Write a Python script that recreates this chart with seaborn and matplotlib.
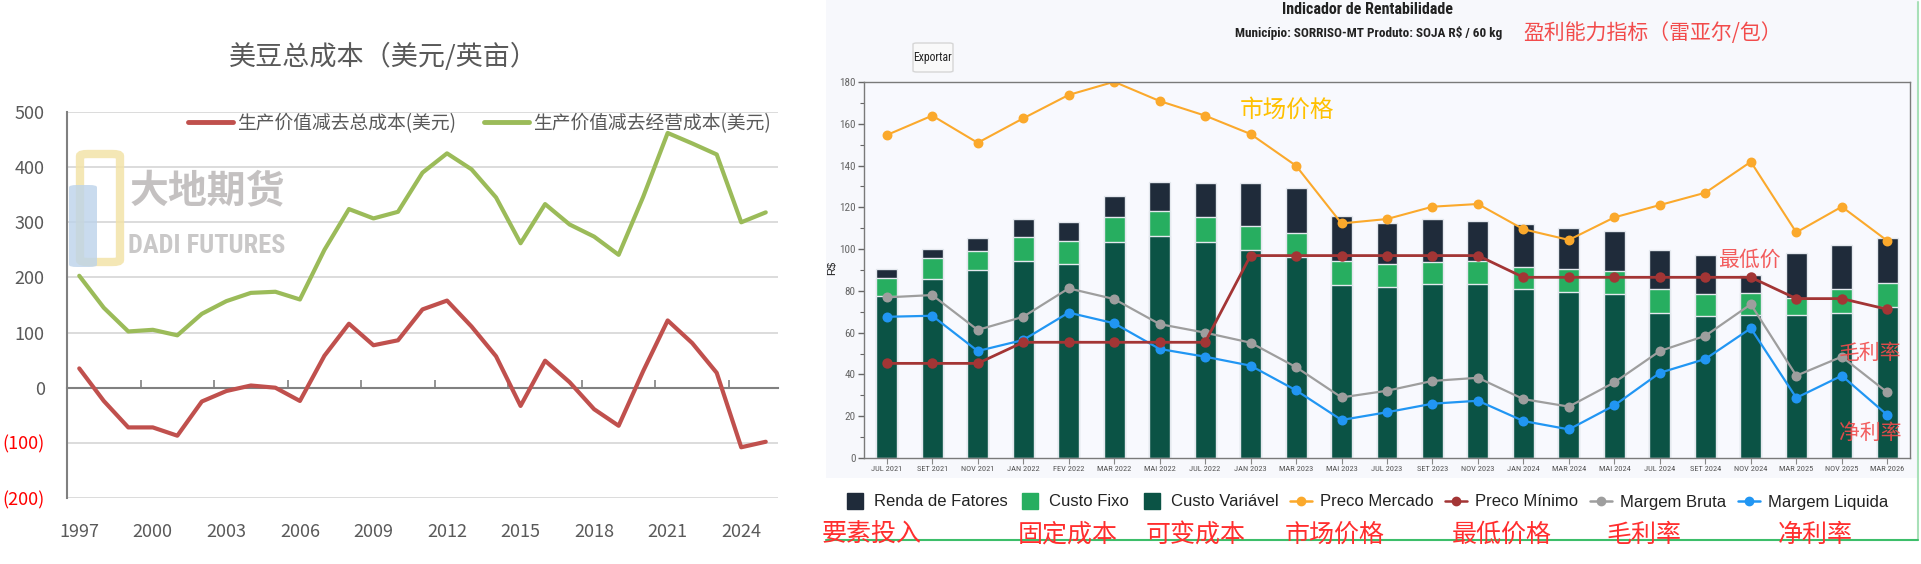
import numpy as np
import pandas as pd
import matplotlib
matplotlib.use("Agg")
import matplotlib.pyplot as plt
import seaborn as sns
from matplotlib import font_manager
from matplotlib.font_manager import FontProperties
from matplotlib.patches import Rectangle, FancyBboxPatch
from matplotlib.lines import Line2D
from matplotlib.ticker import MultipleLocator, FuncFormatter

# ---------------- data: left chart (USD / acre) ----------------
years = list(range(1997, 2026))
net_total_cost = [35, -24, -72, -72, -87, -25, -6, 4, 0, -24, 58, 116, 77, 86, 142,
                  158, 111, 57, -33, 49, 10, -39, -69, 30, 122, 81, 27, -108, -98]
net_oper_cost = [203, 145, 102, 105, 95, 134, 157, 172, 174, 160, 250, 324, 307, 319, 390,
                 425, 396, 345, 262, 333, 296, 274, 241, 346, 462, 443, 423, 300, 318]
label_total = "生产价值减去总成本(美元)"
label_oper = "生产价值减去经营成本(美元)"
year_labels = [str(y) for y in years[::3]]

# ---------------- data: right chart (R$ / 60 kg) ----------------
periods = ["JUL 2021", "SET 2021", "NOV 2021", "JAN 2022", "FEV 2022", "MAR 2022", "MAI 2022",
           "JUL 2022", "JAN 2023", "MAR 2023", "MAI 2023", "JUL 2023", "SET 2023", "NOV 2023",
           "JAN 2024", "MAR 2024", "MAI 2024", "JUL 2024", "SET 2024", "NOV 2024", "MAR 2025",
           "NOV 2025", "MAR 2026"]
custo_variavel = [77.7, 85.5, 89.8, 94.5, 92.7, 103.2, 106.3, 103.2, 99.6, 96.1, 83.0, 81.7,
                  83.4, 83.2, 80.8, 79.6, 78.5, 69.6, 68.0, 68.4, 68.5, 69.6, 72.1]
custo_fixo = [8.7, 10.1, 9.4, 11.4, 11.2, 12.3, 11.9, 12.0, 11.5, 11.4, 11.3, 11.0,
              10.6, 11.1, 10.8, 10.7, 11.2, 11.2, 10.7, 10.7, 7.9, 11.2, 11.5]
renda_fatores = [4.1, 4.4, 6.0, 8.4, 9.2, 10.1, 14.1, 16.6, 20.7, 21.6, 21.7, 19.9,
                 20.3, 19.3, 20.4, 19.7, 19.1, 18.6, 18.5, 8.5, 21.6, 21.0, 21.6]
preco_mercado = [154.6, 163.9, 150.9, 162.6, 173.8, 180.1, 170.9, 163.9, 155.1, 139.9, 112.3, 114.4,
                 120.3, 121.6, 109.5, 104.4, 115.2, 121.1, 127.0, 141.8, 108.0, 120.3, 104.0]
preco_minimo = [45.3, 45.3, 45.3, 55.4, 55.4, 55.4, 55.4, 55.4, 96.9, 96.9, 96.9, 96.9,
                96.9, 96.9, 86.5, 86.5, 86.5, 86.5, 86.5, 86.5, 76.3, 76.3, 71.2]
margem_bruta = [76.9, 78.0, 61.3, 67.6, 81.2, 76.1, 64.1, 60.0, 55.2, 43.5, 29.0, 32.2,
                36.9, 38.4, 28.2, 24.6, 36.2, 51.2, 58.5, 73.6, 39.4, 48.5, 31.4]
margem_liquida = [67.6, 68.1, 51.2, 56.5, 69.6, 64.5, 52.2, 48.5, 44.2, 32.4, 18.2, 21.9,
                  26.0, 27.4, 17.7, 13.7, 25.2, 40.8, 47.4, 62.1, 28.8, 39.4, 20.6]
legend_labels = ["Renda de Fatores", "Custo Fixo", "Custo Variável", "Preco Mercado",
                 "Preco Mínimo", "Margem Bruta", "Margem Liquida"]
cn_labels = ["要素投入", "固定成本", "可变成本", "市场价格", "最低价格", "毛利率", "净利率"]

# ---------------- style ----------------
W, H = 1921, 564
sns.set_theme(style="white")
plt.rcParams['font.family'] = ['Noto Sans CJK SC', 'DejaVu Sans']
plt.rcParams['axes.unicode_minus'] = False
LAT = 'Liberation Sans'


def find_font(bold=False):
    keysets = [['liberationsansnarrow'], ['roboto', 'condensed'], ['dejavu', 'condensed'],
               ['opensans', 'condensed'], ['condensed'], ['narrow']]
    for keys in keysets:
        for f in font_manager.fontManager.ttflist:
            fn = f.fname.lower().replace('-', '').replace('_', '').replace(' ', '')
            if all(k in fn for k in keys) and (('bold' in fn) == bold) \
                    and 'italic' not in fn and 'oblique' not in fn and 'semi' not in fn \
                    and 'extra' not in fn and 'light' not in fn:
                return f.fname
    return None


_nreg, _nbold = find_font(False), find_font(True)


def narrow(size, bold=False):
    path = _nbold if bold else _nreg
    if path:
        return FontProperties(fname=path, size=size)
    return FontProperties(family=LAT, size=size * 0.86, weight='bold' if bold else 'normal')


RED, GREEN = '#C0504D', '#9BBB59'
C_RENDA, C_FIXO, C_VAR = '#1F2B3A', '#27AE60', '#0B5345'
C_MERC, C_MIN, C_BRUTA, C_LIQ = '#FBA92C', '#A33535', '#9E9E9E', '#2196F3'
CN_RED = '#F24B4B'

fig = plt.figure(figsize=(W / 100, H / 100), dpi=100)
fig.patch.set_facecolor('white')


def fx(x):
    return x / W


def fy(y):
    return 1 - y / H


# ================= LEFT CHART =================
ax1 = fig.add_axes([fx(67), fy(498), 711 / W, 386 / H])
ax1.set_facecolor('white')
df_left = pd.DataFrame({
    'year': years + years,
    'value': net_total_cost + net_oper_cost,
    'series': [label_total] * len(years) + [label_oper] * len(years),
})
sns.lineplot(data=df_left, x='year', y='value', hue='series', palette=[RED, GREEN],
             linewidth=3.0, ax=ax1, legend=False, zorder=3)
for ln in ax1.get_lines():
    ln.set_solid_joinstyle('round')
    ln.set_solid_capstyle('round')
ax1.set_xlim(1996.5, 2025.5)
ax1.set_ylim(-200, 500)
ax1.set_yticks(range(-200, 501, 100))
ax1.yaxis.set_major_formatter(FuncFormatter(lambda v, p: f'({abs(int(v))})' if v < 0 else f'{int(v)}'))
ax1.grid(axis='y', color='#D9D9D9', lw=1.3)
ax1.grid(axis='x', visible=False)
ax1.set_axisbelow(True)
ax1.set_xticks(years[::3])
ax1.set_xticklabels(year_labels)
ax1.tick_params(axis='x', length=0, labelsize=13, labelcolor='#595959', pad=18)
ax1.tick_params(axis='y', direction='in', length=6, width=1.2, color='#808080',
                labelsize=13, labelcolor='#595959', pad=16)
for lab in ax1.get_yticklabels():
    if lab.get_text().startswith('('):
        lab.set_color('red')
for s in ['top', 'right', 'bottom']:
    ax1.spines[s].set_visible(False)
ax1.spines['left'].set_color('#808080')
ax1.spines['left'].set_linewidth(1.5)
ax1.set_xlabel('')
ax1.set_ylabel('')

sec = ax1.secondary_xaxis(2 / 7)
sec.set_xticks([y + 0.5 for y in years[2:-1:3]])
sec.tick_params(direction='in', length=6, width=1.2, color='#808080', labelbottom=False,
                labeltop=False)
for s in sec.spines.values():
    s.set_color('#808080')
    s.set_linewidth(1.5)
sec.set_zorder(2)

handles_l = [Line2D([], [], color=RED, lw=3.5), Line2D([], [], color=GREEN, lw=3.5)]
ax1.legend(handles_l, [label_total, label_oper], loc='center', bbox_to_anchor=(0.58, 0.971),
           ncol=2, frameon=False, fontsize=13.5, handlelength=2.4, columnspacing=1.5,
           handletextpad=0.2, labelcolor='#595959')

fig.text(fx(383), fy(57), "美豆总成本（美元/英亩）", ha='center', va='center',
         fontsize=19.5, color='#595959')

# watermark
fig.patches.append(FancyBboxPatch((fx(80), fy(262)), 40 / W, 108 / H,
                                  boxstyle="round,pad=0,rounding_size=0.004",
                                  transform=fig.transFigure, facecolor='none',
                                  edgecolor='#F3E3A8', lw=6, alpha=0.85, zorder=0))
fig.patches.append(FancyBboxPatch((fx(69), fy(267)), 28 / W, 82 / H,
                                  boxstyle="round,pad=0,rounding_size=0.004",
                                  transform=fig.transFigure, facecolor='#BCD3EA',
                                  edgecolor='none', alpha=0.8, zorder=0))
fig.text(fx(207), fy(191), "大地期货", ha='center', va='center', fontsize=28,
         fontweight='bold', color='#BEBBBB', alpha=0.9)
fig.text(fx(207), fy(246), "DADI FUTURES", ha='center', va='center', color='#C4C2C2',
         alpha=0.9, fontproperties=narrow(19, True) if _nbold else
         FontProperties(family=LAT, size=14.5, weight='bold'))

# ================= RIGHT PANEL =================
fig.patches.append(Rectangle((fx(826), fy(478)), (1919 - 826) / W, 478 / H,
                             transform=fig.transFigure, facecolor='#F7F8FC',
                             edgecolor='none', zorder=-5))
fig.add_artist(Line2D([fx(1918), fx(1918)], [fy(2), fy(540)], transform=fig.transFigure,
                      color='#A8E0B8', lw=1.5))
fig.add_artist(Line2D([fx(826), fx(1918)], [fy(540), fy(540)], transform=fig.transFigure,
                      color='#3DBE6A', lw=1.5))

ax2 = fig.add_axes([fx(864), fy(458), 1046 / W, 376 / H])
ax2.set_facecolor('#F8F9FE')

df_r = pd.DataFrame({
    'periodo': periods,
    'custo_variavel': custo_variavel,
    'custo_fixo': custo_fixo,
    'renda_fatores': renda_fatores,
    'preco_mercado': preco_mercado,
    'preco_minimo': preco_minimo,
    'margem_bruta': margem_bruta,
    'margem_liquida': margem_liquida,
})
df_r['topo_fixo'] = df_r['custo_variavel'] + df_r['custo_fixo']
df_r['topo_total'] = df_r['topo_fixo'] + df_r['renda_fatores']

bar_kw = dict(width=0.46, saturation=1, edgecolor='#E4E8EE', linewidth=1.0, ax=ax2)
sns.barplot(data=df_r, x='periodo', y='topo_total', color=C_RENDA, **bar_kw)
sns.barplot(data=df_r, x='periodo', y='topo_fixo', color=C_FIXO, **bar_kw)
sns.barplot(data=df_r, x='periodo', y='custo_variavel', color=C_VAR, **bar_kw)

for col, c, lw in [('margem_bruta', C_BRUTA, 1.6), ('margem_liquida', C_LIQ, 1.6),
                   ('preco_minimo', C_MIN, 2.0), ('preco_mercado', C_MERC, 1.5)]:
    sns.pointplot(data=df_r, x='periodo', y=col, color=c, markers='o', markersize=6,
                  linewidth=lw, errorbar=None, ax=ax2)

ax2.set_xlim(-0.5, len(periods) - 0.5)
ax2.set_ylim(0, 180)
ax2.set_yticks(range(0, 181, 20))
ax2.yaxis.set_minor_locator(MultipleLocator(10))
ax2.set_xticks(range(len(periods)))
ax2.set_xticklabels(periods, color='#555555', fontproperties=narrow(6))
ax2.tick_params(axis='y', which='major', labelcolor='#666666', length=4,
                width=1, color='#666666', left=True, pad=2)
for lab in ax2.get_yticklabels():
    lab.set_fontproperties(narrow(8))
ax2.tick_params(axis='y', which='minor', length=3, width=0.8, color='#666666', left=True)
ax2.tick_params(axis='x', length=4, width=0.8, color='#888888', bottom=True, pad=2)
for s in ax2.spines.values():
    s.set_color('#7A7A7A')
    s.set_linewidth(1.0)
ax2.set_xlabel('')
ax2.set_ylabel('')
ax2.grid(False)
fig.text(fx(832), fy(268), "R$", rotation=90, ha='center', va='center', fontsize=8,
         family=LAT, color='#222222')

# titles of right panel
fig.text(fx(1368), fy(9), "Indicador de Rentabilidade", ha='center', va='center',
         fontproperties=narrow(11.5, True), color='#222222')
fig.text(fx(1369), fy(33), "Município: SORRISO-MT Produto: SOJA R$ / 60 kg", ha='center',
         va='center', fontproperties=narrow(9.5, True), color='#222222')
fig.text(fx(1653), fy(33), "盈利能力指标（雷亚尔/包）", ha='center', va='center', fontsize=15,
         color=CN_RED)
fig.patches.append(FancyBboxPatch((fx(913), fy(72)), 40 / W, 29 / H,
                                  boxstyle="round,pad=0,rounding_size=0.002",
                                  transform=fig.transFigure, facecolor='#F9F9F9',
                                  edgecolor='#D6D6D6', lw=1))
fig.text(fx(933), fy(57), "Exportar", ha='center', va='center', fontproperties=narrow(8.5),
         color='#222222')

# annotations on chart
fig.text(fx(1287), fy(110), "市场价格", ha='center', va='center', fontsize=17, color='#FFC000')
fig.text(fx(1749), fy(260), "最低价", ha='center', va='center', fontsize=15, color=CN_RED,
         alpha=0.9)
fig.text(fx(1870), fy(353), "毛利率", ha='center', va='center', fontsize=15, color=CN_RED,
         alpha=0.9)
fig.text(fx(1870), fy(433), "净利率", ha='center', va='center', fontsize=15, color=CN_RED,
         alpha=0.9)

# legend
leg_colors = [C_RENDA, C_FIXO, C_VAR, C_MERC, C_MIN, C_BRUTA, C_LIQ]
handles_r = []
for i, c in enumerate(leg_colors):
    if i < 3:
        handles_r.append(Line2D([], [], marker='s', linestyle='none', markersize=11,
                                color=c))
    else:
        handles_r.append(Line2D([], [], marker='o', markersize=6, color=c, lw=1.8))
fig.legend(handles_r, legend_labels, loc='center', bbox_to_anchor=(fx(1366), fy(502)),
           ncol=7, frameon=False, handlelength=1.3, handletextpad=0.5, columnspacing=0.7,
           prop={'family': LAT, 'size': 12}, labelcolor='#222222')

cn_x = [872, 1068, 1196, 1335, 1502, 1644, 1815]
for xx, t in zip(cn_x, cn_labels):
    fig.text(fx(xx), fy(535), t, ha='center', va='center', fontsize=18, color='#FF2E2E')

fig.savefig("out.png", dpi=100, facecolor='white')
